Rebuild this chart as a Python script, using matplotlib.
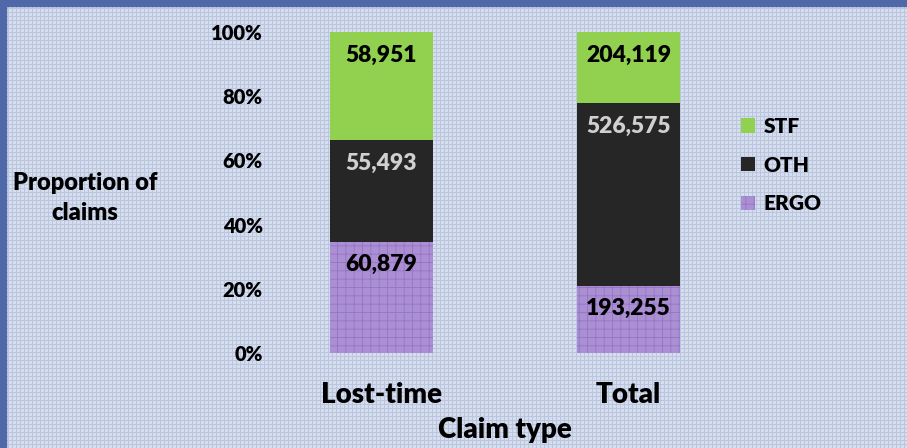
import numpy as np
import matplotlib
matplotlib.use("Agg")
import matplotlib.pyplot as plt
from matplotlib.patches import Rectangle

plt.rcParams['font.family'] = ['Lato', 'DejaVu Sans']
plt.rcParams['font.weight'] = 'heavy'
plt.rcParams['hatch.linewidth'] = 0.6

categories = ["Lost-time", "Total"]
series_names = ["ERGO", "OTH", "STF"]
ergo = [60879, 193255]
oth = [55493, 526575]
stf = [58951, 204119]
colors = {"ERGO": "#ab8fd3", "OTH": "#262626", "STF": "#92d050"}
label_colors = {"ERGO": "black", "OTH": "#d0d0d0", "STF": "black"}
y_ticks = [0, 0.2, 0.4, 0.6, 0.8, 1.0]
y_tick_labels = ["0%", "20%", "40%", "60%", "80%", "100%"]

W, H = 907, 448
fig = plt.figure(figsize=(W / 100, H / 100), dpi=100)
fig.patch.set_facecolor('#d6deee')

# background texture
yy, xx = np.mgrid[0:H, 0:W]
base = np.array([0.84, 0.87, 0.93])
dark = np.array([0.66, 0.71, 0.85])
mask = ((xx % 4 == 0) | (yy % 4 == 0)).astype(float)[..., None]
img = base * (1 - mask * 0.6) + dark * mask * 0.6
fig.figimage(img, 0, 0, zorder=0)
# border
fig.patches.append(Rectangle((0, 0), 6 / W, 1, transform=fig.transFigure, color='#4f68a8', zorder=1))
fig.patches.append(Rectangle((0, 1 - 6 / H), 1, 6 / H, transform=fig.transFigure, color='#4f68a8', zorder=1))

ax = fig.add_axes([258 / W, 95 / H, (752 - 258) / W, 321 / H])
ax.set_zorder(5)
ax.patch.set_visible(False)
for s in ax.spines.values():
    s.set_visible(False)

data = {"ERGO": np.array(ergo, float), "OTH": np.array(oth, float), "STF": np.array(stf, float)}
totals = sum(data.values())
x = np.arange(len(categories))
bottom = np.zeros(len(categories))
handles = {}
for name in series_names:
    prop = data[name] / totals
    if name == "ERGO":
        bars = ax.bar(x, prop, bottom=bottom, width=0.417, facecolor=colors[name],
                      edgecolor='#9474c6', linewidth=0, hatch='++', zorder=2)
    else:
        bars = ax.bar(x, prop, bottom=bottom, width=0.417, color=colors[name], zorder=2)
    handles[name] = bars
    for i in range(len(categories)):
        top = bottom[i] + prop[i]
        ax.annotate(f"{int(data[name][i]):,}", xy=(x[i], top), xytext=(0, -23),
                    textcoords='offset pixels', ha='center', va='center',
                    fontsize=16.5, fontweight='heavy', color=label_colors[name], zorder=3)
    bottom = bottom + prop

ax.set_xlim(-0.5, 1.5)
ax.set_ylim(0, 1)
ax.set_yticks(y_ticks)
ax.set_yticklabels(y_tick_labels, fontsize=14.5, fontweight='heavy')
ax.set_xticks(x)
ax.set_xticklabels(categories, fontsize=20, fontweight='heavy')
ax.tick_params(axis='both', length=0)
ax.tick_params(axis='y', pad=-3.5)
ax.tick_params(axis='x', pad=21)
ax.set_xlabel("Claim type", fontsize=20, fontweight='heavy', labelpad=6.5)

t = fig.text(85 / W, 1 - 198 / H, "Proportion of\nclaims", ha='center', va='center',
             fontsize=17, fontweight='heavy', linespacing=1.45)
t.set_zorder(6)

leg = fig.legend([handles[n] for n in ["STF", "OTH", "ERGO"]], ["STF", "OTH", "ERGO"],
                 loc='center left', bbox_to_anchor=(722 / W, 1 - 165 / H), frameon=False,
                 prop={'size': 15, 'weight': 'heavy'}, handlelength=0.7, handleheight=0.7,
                 handletextpad=0.4, labelspacing=0.95)
leg.set_zorder(6)

fig.savefig("out.png", dpi=100, facecolor=fig.get_facecolor())
